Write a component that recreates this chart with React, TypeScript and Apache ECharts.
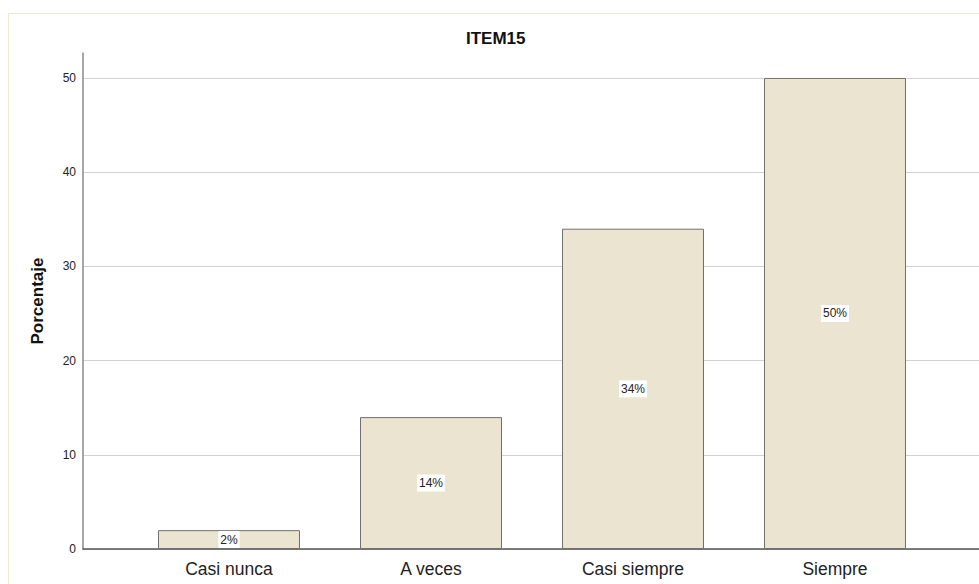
import React, { useEffect, useRef } from "react";
import * as echarts from "echarts";

const categories = ["Casi nunca", "A veces", "Casi siempre", "Siempre"];
const percentValues = [2, 14, 34, 50];
const yTickValues = [0, 10, 20, 30, 40, 50];
const titleText = "ITEM15";
const yAxisTitle = "Porcentaje";

const FONT = "'Liberation Sans', Arial, sans-serif";

export default function App() {
  const ref = useRef<HTMLDivElement>(null);
  useEffect(() => {
    if (!ref.current) return;
    const chart = echarts.init(ref.current, null, { renderer: "svg" });
    const xMin = -0.7228;
    const xMax = 3.7129;
    const yTop = 52.65;
    chart.setOption({
      animation: false,
      backgroundColor: "#ffffff",
      textStyle: { fontFamily: FONT },
      title: {
        text: titleText,
        left: 466,
        top: 30,
        padding: 0,
        textStyle: { fontFamily: FONT, fontSize: 17, fontWeight: "bold", color: "#111" },
      },
      graphic: [
        {
          type: "rect",
          shape: { x: 8.5, y: 13.5, width: 1000, height: 600 },
          style: { fill: "none", stroke: "#EEE8D3", lineWidth: 1 },
          silent: true,
          z: -10,
        },
      ],
      grid: [
        { left: 83, right: 0, top: 78, bottom: 35, containLabel: false },
        { left: 83, right: 0, top: 53, bottom: 35, containLabel: false },
      ],
      xAxis: [
        { gridIndex: 0, type: "value", min: xMin, max: xMax, show: false },
        {
          gridIndex: 1,
          type: "value",
          min: xMin,
          max: xMax,
          axisLine: { show: true, onZero: false, lineStyle: { color: "#555", width: 1.5 } },
          axisTick: { show: false },
          splitLine: { show: false },
          axisLabel: {
            customValues: categories.map((_, i) => i),
            formatter: (v: number) => categories[Math.round(v)] ?? "",
            fontFamily: FONT,
            fontSize: 17.5,
            color: "#222",
            margin: 11,
          },
        },
      ],
      yAxis: [
        {
          gridIndex: 0,
          type: "value",
          min: yTickValues[0],
          max: yTickValues[yTickValues.length - 1],
          interval: 10,
          axisLine: { show: false },
          axisTick: { show: false },
          splitLine: { show: true, lineStyle: { color: "#D2D2D2", width: 1.2 } },
          axisLabel: { fontFamily: FONT, fontSize: 12, color: "#222", margin: 7 },
        },
        {
          gridIndex: 1,
          type: "value",
          min: 0,
          max: yTop,
          axisLine: { show: true, onZero: false, lineStyle: { color: "#8A8A8A", width: 1.5 } },
          axisTick: { show: false },
          splitLine: { show: false },
          axisLabel: { show: false },
          name: yAxisTitle,
          nameLocation: "middle",
          nameGap: 37,
          nameTextStyle: { fontFamily: FONT, fontSize: 17, fontWeight: "bold", color: "#111" },
        },
      ],
      series: [
        {
          type: "bar",
          xAxisIndex: 1,
          yAxisIndex: 1,
          barWidth: 142,
          data: percentValues.map((v, i) => [i, v]),
          itemStyle: { color: "#EAE4D0", borderColor: "#707070", borderWidth: 1 },
          label: {
            show: true,
            position: "inside",
            formatter: (p: any) => `${p.value[1]}%`,
            fontFamily: FONT,
            fontSize: 12,
            color: "#222",
            backgroundColor: "#ffffff",
            padding: [3, 2, 2, 2],
          },
          z: 3,
        },
      ],
    });
    return () => chart.dispose();
  }, []);
  return (
    <div
      ref={ref}
      style={{ position: "fixed", left: 0, top: 0, width: 979, height: 584 }}
    />
  );
}
